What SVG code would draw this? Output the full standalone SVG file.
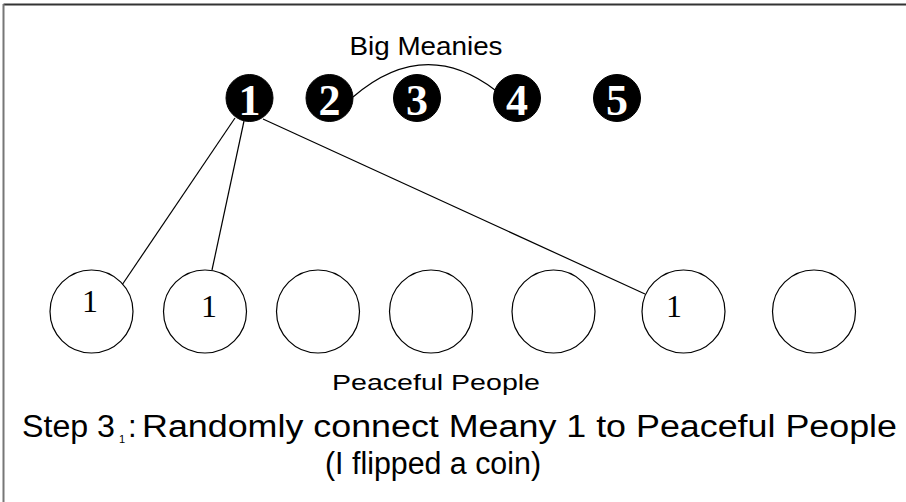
<svg xmlns="http://www.w3.org/2000/svg" width="906" height="502" viewBox="0 0 906 502">
  <style>
    .label { font-family: "Liberation Sans", Arial, sans-serif; fill: #000; }
    .meany circle { fill: #000; stroke: #000; stroke-width: 1; }
    .meany text { font-family: "Liberation Serif", "Times New Roman", serif; font-weight: bold; font-size: 44px; fill: #fff; text-anchor: middle; }
    .person circle { fill: #fff; stroke: #000; stroke-width: 1.2; }
    .person text { font-family: "Liberation Serif", "Times New Roman", serif; font-size: 32px; fill: #000; text-anchor: middle; }
    .edge { fill: none; stroke: #000; stroke-width: 1.2; }
  </style>

  <rect x="0" y="0" width="906" height="502" fill="#fff"/>
  <!-- frame: top and left edges only -->
  <line x1="3.5" y1="4.5" x2="906" y2="4.5" stroke="#333" stroke-width="2"/>
  <line x1="3.5" y1="4" x2="3.5" y2="502" stroke="#777" stroke-width="2"/>

  <text class="label" x="426" y="55" font-size="25" text-anchor="middle" textLength="153" lengthAdjust="spacingAndGlyphs">Big Meanies</text>

  <!-- connectors -->
  <g id="connectors">
    <path class="edge" d="M353,97 Q424,36 495,90"/>
    <line class="edge" x1="235" y1="118" x2="122" y2="285"/>
    <line class="edge" x1="244" y1="121" x2="212" y2="270"/>
    <line class="edge" x1="263" y1="119" x2="645" y2="294"/>
  </g>

  <!-- big meanies -->
  <g id="meany1" class="meany"><circle cx="249.5" cy="98" r="23.5"/><text x="249.5" y="115">1</text></g>
  <g id="meany2" class="meany"><circle cx="329.5" cy="98" r="23.5"/><text x="329.5" y="115">2</text></g>
  <g id="meany3" class="meany"><circle cx="417" cy="98" r="23.5"/><text x="417" y="115">3</text></g>
  <g id="meany4" class="meany"><circle cx="517" cy="98" r="23.5"/><text x="517" y="115">4</text></g>
  <g id="meany5" class="meany"><circle cx="617" cy="98" r="23.5"/><text x="617" y="115">5</text></g>

  <!-- peaceful people -->
  <g id="person1" class="person"><circle cx="91.5" cy="311.5" r="41.5"/><text x="90" y="312">1</text></g>
  <g id="person2" class="person"><circle cx="205" cy="311.5" r="41.5"/><text x="209" y="317">1</text></g>
  <g id="person3" class="person"><circle cx="318" cy="311.5" r="41.5"/></g>
  <g id="person4" class="person"><circle cx="431" cy="311.5" r="41.5"/></g>
  <g id="person5" class="person"><circle cx="553.5" cy="311.5" r="41.5"/></g>
  <g id="person6" class="person"><circle cx="683.5" cy="311.5" r="41.5"/><text x="674" y="317">1</text></g>
  <g id="person7" class="person"><circle cx="814" cy="311.5" r="41.5"/></g>

  <text class="label" x="436" y="390" font-size="22" text-anchor="middle" textLength="208" lengthAdjust="spacingAndGlyphs">Peaceful People</text>

  <text class="label" x="22" y="437" font-size="31" textLength="93" lengthAdjust="spacingAndGlyphs">Step 3</text>
  <text class="label" x="119" y="443" font-size="11" fill="#555">1</text>
  <text class="label" x="128" y="437" font-size="31">:</text>
  <text class="label" x="142" y="437" font-size="31" textLength="755" lengthAdjust="spacingAndGlyphs">Randomly connect Meany 1 to Peaceful People</text>

  <text class="label" x="433" y="474" font-size="31" text-anchor="middle" textLength="216" lengthAdjust="spacingAndGlyphs">(I flipped a coin)</text>
</svg>
